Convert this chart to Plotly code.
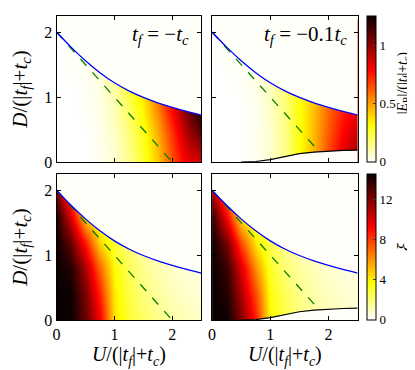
import plotly.graph_objects as go

U_GRID = [0.0, 0.25, 0.5, 0.75, 1.0, 1.25, 1.5, 1.75, 2.0, 2.25, 2.5]
D_GRID = [0.0, 0.4, 0.8, 1.2, 1.6, 2.0]

# |E_B|/(|t_f|+t_c), t_f = -t_c
eb_left = [
    [0, 0, 0, 0.02, 0.06, 0.14, 0.26, 0.42, 0.65, 0.82, 0.88],
    [0, 0, 0, 0.02, 0.07, 0.16, 0.29, 0.46, 0.70, 0.93, 1.08],
    [0, 0, 0.01, 0.03, 0.09, 0.20, 0.34, 0.54, 0.80, 1.05, 1.25],
    [0, 0, 0.01, 0.04, 0.12, 0.25, 0.40, 0.60, 0.85, 1.10, 1.25],
    [0, 0.01, 0.02, 0.05, 0.15, 0.28, 0.45, 0.65, 0.90, 1.15, 1.25],
    [0, 0.01, 0.02, 0.06, 0.17, 0.30, 0.50, 0.70, 0.95, 1.20, 1.25],
]
# |E_B|/(|t_f|+t_c), t_f = -0.1 t_c
eb_right = [
    [0, 0, 0, 0.02, 0.06, 0.15, 0.30, 0.46, 0.66, 0.86, 1.00],
    [0, 0, 0, 0.02, 0.06, 0.15, 0.30, 0.45, 0.63, 0.80, 0.92],
    [0, 0, 0, 0.02, 0.07, 0.16, 0.30, 0.44, 0.60, 0.74, 0.82],
    [0, 0, 0.01, 0.03, 0.08, 0.18, 0.31, 0.44, 0.58, 0.70, 0.78],
    [0, 0.01, 0.01, 0.04, 0.09, 0.19, 0.32, 0.44, 0.57, 0.68, 0.75],
    [0, 0.01, 0.02, 0.05, 0.10, 0.20, 0.33, 0.45, 0.57, 0.67, 0.73],
]
# xi, t_f = -t_c
xi_left = [
    [14.5, 14.5, 12.5, 9.5, 4.3, 2.9, 2.2, 1.7, 1.3, 1.0, 0.8],
    [14.5, 14.5, 12.0, 8.5, 4.0, 2.7, 1.9, 1.4, 1.0, 0.75, 0.6],
    [14.5, 14.0, 11.0, 7.0, 3.6, 2.4, 1.6, 1.1, 0.8, 0.55, 0.45],
    [14.5, 12.5, 8.5, 4.5, 2.8, 1.9, 1.3, 0.9, 0.6, 0.4, 0.35],
    [14.0, 10.0, 4.5, 3.0, 2.0, 1.5, 1.0, 0.7, 0.5, 0.35, 0.3],
    [12.0, 7.0, 3.5, 2.5, 1.7, 1.2, 0.8, 0.6, 0.4, 0.3, 0.25],
]
# xi, t_f = -0.1 t_c
xi_right = [
    [14.5, 14.5, 12.0, 8.5, 3.8, 2.6, 1.9, 1.4, 1.1, 0.9, 0.7],
    [14.5, 14.0, 11.0, 7.5, 3.5, 2.4, 1.7, 1.2, 0.9, 0.7, 0.55],
    [14.5, 13.5, 10.0, 6.0, 3.1, 2.0, 1.4, 1.0, 0.7, 0.5, 0.4],
    [14.5, 12.0, 7.5, 4.0, 2.5, 1.6, 1.1, 0.8, 0.55, 0.4, 0.3],
    [13.5, 9.0, 4.0, 2.6, 1.8, 1.3, 0.9, 0.6, 0.45, 0.3, 0.25],
    [11.0, 6.0, 3.0, 2.2, 1.5, 1.0, 0.7, 0.5, 0.35, 0.25, 0.2],
]

# upper boundary (blue)
blue_u = [0.0, 0.25, 0.5, 0.75, 1.0, 1.25, 1.5, 1.75, 2.0, 2.25, 2.5]
blue_d = [2.0, 1.768, 1.558, 1.375, 1.220, 1.095, 0.995, 0.913, 0.843, 0.780, 0.723]
# lower boundary for t_f = -0.1 t_c (black)
black_u = [0.5, 0.75, 1.0, 1.25, 1.5, 1.75, 2.0, 2.25, 2.5]
black_d = [0.0, 0.01, 0.04, 0.09, 0.13, 0.155, 0.17, 0.18, 0.185]
# dashed green lines
green_u_left = [0.0, 2.0]
green_d_left = [2.0, 0.0]
green_u_right = [0.0, 1.84]
green_d_right = [2.0, 0.16]

X_MAX = 2.5
Y_MAX = 2.25
EB_MAX = 1.25
XI_MAX = 14.5

hot_r = [[0, "rgb(255,255,255)"], [0.254, "rgb(255,255,0)"],
         [0.635, "rgb(255,0,0)"], [1, "rgb(11,0,0)"]]
SERIF = "Liberation Serif"
BG = "rgb(255,255,250)"

fig = go.Figure()

panels = [
    ("x", "y", eb_left, "coloraxis", False),
    ("x2", "y2", eb_right, "coloraxis", True),
    ("x3", "y3", xi_left, "coloraxis2", False),
    ("x4", "y4", xi_right, "coloraxis2", True),
]
for xa, ya, z, cax, right in panels:
    fig.add_trace(go.Heatmap(x=U_GRID, y=D_GRID, z=z, coloraxis=cax,
                             zsmooth="best", xaxis=xa, yaxis=ya))
    # blank region above the upper boundary
    fig.add_trace(go.Scatter(x=blue_u + [blue_u[-1], blue_u[0]],
                             y=blue_d + [Y_MAX + 0.1, Y_MAX + 0.1],
                             fill="toself", fillcolor=BG, mode="none",
                             xaxis=xa, yaxis=ya, hoverinfo="skip"))
    if right:
        fig.add_trace(go.Scatter(x=black_u, y=black_d, mode="lines", fill="tozeroy",
                                 fillcolor=BG, line=dict(color="black", width=1.2),
                                 xaxis=xa, yaxis=ya))
        gu, gd = green_u_right, green_d_right
    else:
        gu, gd = green_u_left, green_d_left
    fig.add_trace(go.Scatter(x=gu, y=gd, mode="lines",
                             line=dict(color="green", width=1.3, dash="dash"),
                             xaxis=xa, yaxis=ya))
    fig.add_trace(go.Scatter(x=blue_u, y=blue_d, mode="lines", line_shape="spline",
                             line=dict(color="blue", width=1.3),
                             xaxis=xa, yaxis=ya))

W, H = 415, 370
col1 = [45 / W, 191 / W]
col2 = [202 / W, 349 / W]
row1 = [1 - 158 / H, 1 - 8 / H]
row2 = [1 - 320 / H, 1 - 170 / H]

ax_common = dict(range=[0, X_MAX], showgrid=False, zeroline=False, showline=True,
                 linecolor="black", linewidth=1, mirror="ticks", ticks="inside",
                 ticklen=4, tickcolor="black", tickvals=[0, 1, 2],
                 tickfont=dict(family=SERIF, size=16, color="black"))
ay_common = dict(ax_common, range=[0, Y_MAX])

xtitle = "<i>U</i>/(|<i>t<sub>f</sub></i>|+<i>t<sub>c</sub></i>)"
ytitle = "<i>D</i>/(|<i>t<sub>f</sub></i>|+<i>t<sub>c</sub></i>)"
xfont = dict(family=SERIF, size=20, color="black")
yfont = dict(family=SERIF, size=21, color="black")
cbfont = dict(family=SERIF, size=13, color="black")

cb_common = dict(x=358 / W, xanchor="left", yanchor="top", thickness=9,
                 xpad=0, ypad=0, outlinewidth=1, outlinecolor="black",
                 ticks="inside", ticklen=3, tickfont=cbfont)

fig.update_layout(
    width=W, height=H, margin=dict(l=0, r=0, t=0, b=0),
    paper_bgcolor="white", plot_bgcolor=BG, showlegend=False,
    xaxis=dict(ax_common, domain=col1, anchor="y", showticklabels=False),
    xaxis2=dict(ax_common, domain=col2, anchor="y2", showticklabels=False),
    xaxis3=dict(ax_common, domain=col1, anchor="y3",
                title=dict(text=xtitle, font=xfont, standoff=3)),
    xaxis4=dict(ax_common, domain=col2, anchor="y4",
                title=dict(text=xtitle, font=xfont, standoff=3)),
    yaxis=dict(ay_common, domain=row1, anchor="x",
               title=dict(text=ytitle, font=yfont, standoff=14)),
    yaxis2=dict(ay_common, domain=row1, anchor="x2", showticklabels=False),
    yaxis3=dict(ay_common, domain=row2, anchor="x3",
                title=dict(text=ytitle, font=yfont, standoff=14)),
    yaxis4=dict(ay_common, domain=row2, anchor="x4", showticklabels=False),
    coloraxis=dict(colorscale=hot_r, cmin=0, cmax=EB_MAX,
                   colorbar=dict(cb_common, y=row1[1], len=row1[1] - row1[0],
                                 tickvals=[0, 0.5, 1])),
    coloraxis2=dict(colorscale=hot_r, cmin=0, cmax=XI_MAX,
                    colorbar=dict(cb_common, y=row2[1], len=row2[1] - row2[0],
                                  tickvals=[0, 4, 8, 12])),
    annotations=[
        dict(text="<i>t<sub>f</sub></i> = −<i>t<sub>c</sub></i>", xref="x domain", yref="y domain",
             x=0.93, y=0.87, xanchor="right", yanchor="middle", showarrow=False,
             font=dict(family=SERIF, size=21, color="black")),
        dict(text="<i>t<sub>f</sub></i> = −0.1<i>t<sub>c</sub></i>", xref="x2 domain", yref="y2 domain",
             x=0.94, y=0.87, xanchor="right", yanchor="middle", showarrow=False,
             font=dict(family=SERIF, size=21, color="black")),
        # colorbar titles
        dict(text="|<i>E</i><sub>B</sub>|/(|<i>t<sub>f</sub></i>|+<i>t<sub>c</sub></i>)",
             xref="paper", yref="paper", x=395 / W, y=1 - 77 / H, textangle=-90,
             xanchor="center", yanchor="middle", showarrow=False,
             font=dict(family=SERIF, size=14, color="black")),
        dict(text="<i>ξ</i>", xref="paper", yref="paper", x=395 / W, y=1 - 245 / H,
             textangle=-90, xanchor="center", yanchor="middle", showarrow=False,
             font=dict(family=SERIF, size=19, color="black")),
    ],
)

fig.write_html("out.html")
